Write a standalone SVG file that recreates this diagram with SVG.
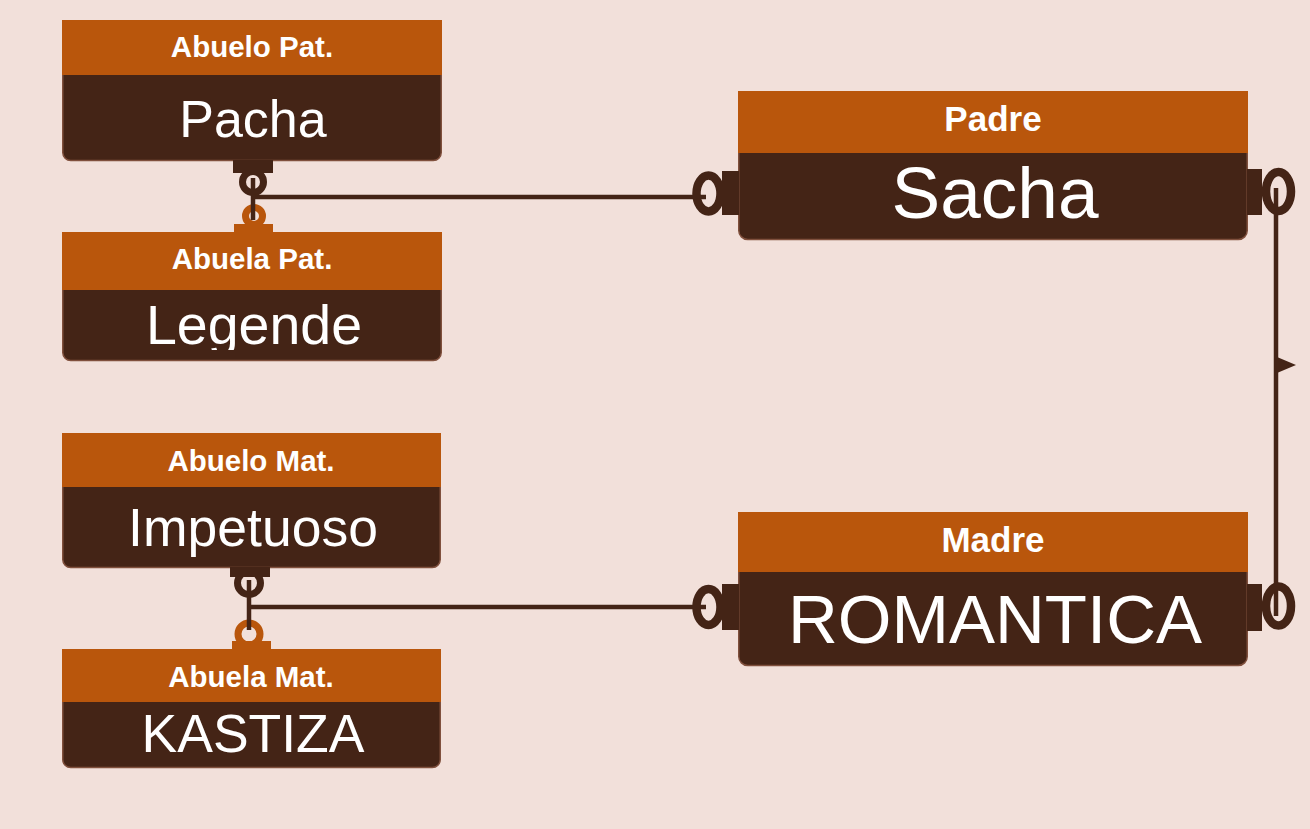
<svg xmlns="http://www.w3.org/2000/svg" width="1310" height="829" viewBox="0 0 1310 829">
<style>
.hdr{fill:#B9560C}
.body{fill:#442416;stroke:#80503D;stroke-width:1.5}
.dk{fill:#442416}
.or{fill:#B9560C}
.ringd{fill:none;stroke:#442416;stroke-width:7}
.ringo{fill:none;stroke:#B9560C;stroke-width:7}
.ringb{fill:none;stroke:#442416;stroke-width:8.5}
.ht{font-family:"Liberation Sans",Arial,sans-serif;font-weight:bold;fill:#ffffff;text-anchor:middle}
.bt{font-family:"Liberation Sans",Arial,sans-serif;fill:#ffffff;text-anchor:middle}
.ln{fill:none;stroke:#442416;stroke-width:4.5}
</style>
<defs>
<clipPath id="clipLeg"><rect x="62" y="290" width="380" height="60"/></clipPath>
</defs>
<rect x="0" y="0" width="1310" height="829" fill="#F2E0DA"/>

<g id="abuelo-pat">
<rect class="body" x="62.75" y="60" width="378.5" height="100.5" rx="8"/>
<rect class="hdr" x="62" y="20" width="380" height="55"/>
<text class="ht" x="252" y="57" font-size="29.5">Abuelo Pat.</text>
<text class="bt" x="253" y="137" font-size="52">Pacha</text>
<circle class="ringd" cx="253" cy="182" r="10.5"/>
<rect class="dk" x="233" y="160" width="40" height="13"/>
</g>

<g id="abuela-pat">
<rect class="body" x="62.75" y="276" width="378.5" height="84.5" rx="8"/>
<rect class="hdr" x="62" y="232" width="380" height="58"/>
<text class="ht" x="252" y="269" font-size="29.5">Abuela Pat.</text>
<text class="bt" x="254" y="344" font-size="55.5" clip-path="url(#clipLeg)">Legende</text>
<circle class="ringo" cx="254" cy="216" r="8.5"/>
<rect class="or" x="234" y="224" width="39" height="9"/>
</g>

<g id="padre">
<rect class="body" x="738.75" y="140" width="508.5" height="99.5" rx="9"/>
<rect class="hdr" x="738" y="91" width="510" height="62"/>
<text class="ht" x="993" y="131" font-size="35">Padre</text>
<text class="bt" x="995" y="218" font-size="73">Sacha</text>
<ellipse class="ringb" cx="708.5" cy="193.5" rx="12" ry="18"/>
<rect class="dk" x="722" y="171" width="17" height="44"/>
<ellipse class="ringb" cx="1278.5" cy="191.5" rx="12.5" ry="19.5"/>
<rect class="dk" x="1247" y="169" width="15" height="46"/>
</g>

<g id="abuelo-mat">
<rect class="body" x="62.75" y="472" width="377.5" height="95.5" rx="8"/>
<rect class="hdr" x="62" y="433" width="379" height="54"/>
<text class="ht" x="251" y="471" font-size="29.5">Abuelo Mat.</text>
<text class="bt" x="253" y="546" font-size="53.5">Impetuoso</text>
<circle class="ringd" cx="249" cy="583" r="11.5"/>
<rect class="dk" x="230" y="567" width="40" height="10"/>
</g>

<g id="abuela-mat">
<rect class="body" x="62.75" y="690" width="377.5" height="77.5" rx="8"/>
<rect class="hdr" x="62" y="649" width="379" height="53"/>
<text class="ht" x="251" y="687" font-size="29.5">Abuela Mat.</text>
<text class="bt" x="253" y="752" font-size="53.5">KASTIZA</text>
<circle class="ringo" cx="249" cy="634" r="11"/>
<rect class="or" x="232" y="641" width="39" height="9"/>
</g>

<g id="madre">
<rect class="body" x="738.75" y="560" width="508.5" height="105.5" rx="9"/>
<rect class="hdr" x="738" y="512" width="510" height="60"/>
<text class="ht" x="993" y="552" font-size="35">Madre</text>
<text class="bt" x="995" y="643" font-size="69">ROMANTICA</text>
<ellipse class="ringb" cx="708.5" cy="607" rx="12" ry="18"/>
<rect class="dk" x="722" y="584" width="17" height="46"/>
<ellipse class="ringb" cx="1278.5" cy="606" rx="12.5" ry="19.5"/>
<rect class="dk" x="1247" y="584" width="15" height="47"/>
</g>

<g id="connectors">
<path class="ln" d="M253 178 V220"/>
<path class="ln" d="M253 197 H706"/>
<path class="ln" d="M249 580 V630"/>
<path class="ln" d="M249 607 H706"/>
<path class="ln" d="M1276 188 V616"/>
<polygon class="dk" points="1277,357 1296,365 1277,373"/>
</g>
</svg>
